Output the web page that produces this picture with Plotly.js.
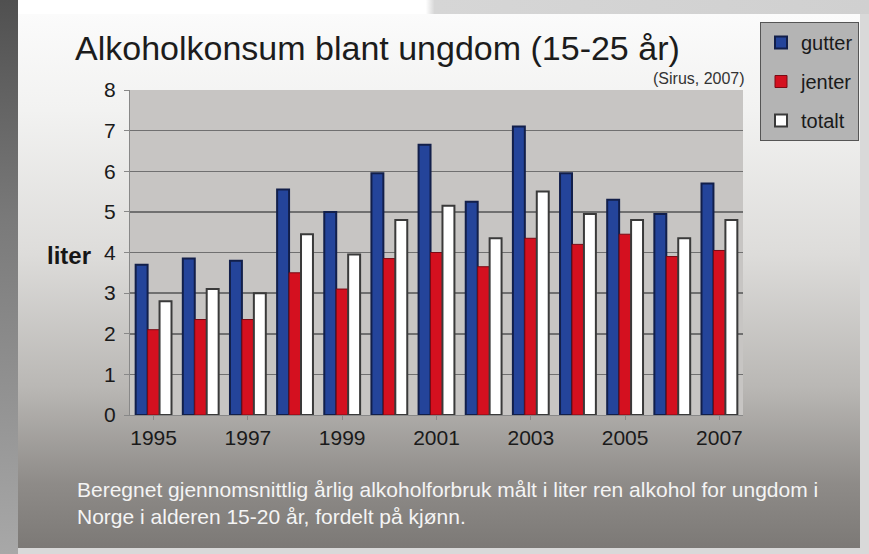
<!DOCTYPE html>
<html>
<head>
<meta charset="utf-8">
<script src="https://cdn.plot.ly/plotly-3.0.1.min.js"></script>
<style>
  html, body { margin:0; padding:0; width:869px; height:554px; overflow:hidden; background:#d9d9d9; }
  #topstrip { position:absolute; left:0; top:0; width:869px; height:14px;
    background:linear-gradient(to right, #ffffff 0%, #ffffff 49%, #d6d6d6 50%, #d0d0d0 100%); }
  #leftstrip { position:absolute; left:0; top:0; width:18px; height:554px;
    background:linear-gradient(to bottom, #505050 0%, #7a7a7a 40%, #a8a8a8 100%); }
  #panel { position:absolute; left:18px; top:14px; width:842px; height:534px;
    background:linear-gradient(to bottom, #fbfbfb 0%, #f2f2f1 18%, #dddcda 45%, #b9b7b4 70%, #8e8b88 88%, #7c7976 100%); }
  #chart { position:absolute; left:0; top:0; width:869px; height:554px; }
</style>
</head>
<body>
<div id="topstrip"></div>
<div id="leftstrip"></div>
<div id="panel"></div>
<div id="chart"></div>
<script>
const years   = [1995, 1996, 1997, 1998, 1999, 2000, 2001, 2002, 2003, 2004, 2005, 2006, 2007];
const gutter  = [3.7, 3.85, 3.8, 5.55, 5.0, 5.95, 6.65, 5.25, 7.1, 5.95, 5.3, 4.95, 5.7];
const jenter  = [2.1, 2.35, 2.35, 3.5, 3.1, 3.85, 4.0, 3.65, 4.35, 4.2, 4.45, 3.9, 4.05];
const totalt  = [2.8, 3.1, 3.0, 4.45, 3.95, 4.8, 5.15, 4.35, 5.5, 4.95, 4.8, 4.35, 4.8];
const yTicks  = [0, 1, 2, 3, 4, 5, 6, 7, 8];
const xTicks  = [1995, 1997, 1999, 2001, 2003, 2005, 2007];

const FONT = 'Liberation Sans, Arial, sans-serif';

const traces = [
  { type:'bar', name:'gutter', x:years, y:gutter, legendgroup:'g',
    marker:{ color:'#24449a', line:{ color:'#121f4a', width:2 } } },
  { type:'bar', name:'jenter', x:years, y:jenter, legendgroup:'j',
    marker:{ color:'#d4101f', line:{ color:'#7a0a14', width:1 } } },
  { type:'bar', name:'totalt', x:years, y:totalt, legendgroup:'t',
    marker:{ color:'#ffffff', line:{ color:'#3a3a3a', width:2 } } }
];

const L = 130, R = 126, T = 90, B = 139;
const PW = 869 - L - R, PH = 554 - T - B;
const px = v => (v - L) / PW;
const py = v => (554 - B - v) / PH;

const layout = {
  width:869, height:554,
  paper_bgcolor:'rgba(0,0,0,0)',
  plot_bgcolor:'#c7c5c3',
  margin:{ l:L, r:R, t:T, b:B },
  barmode:'group', bargap:0.24, bargroupgap:0,
  font:{ family:FONT, color:'#1a1a1a' },
  title:{ text:'Alkoholkonsum blant ungdom (15-25 år)', font:{ size:34, color:'#1c1c1c', family:FONT },
    xref:'container', yref:'container', x:75/869, xanchor:'left', y:1-48/554, yanchor:'middle' },
  xaxis:{ range:[1994.5, 2007.5], tickvals:xTicks, ticktext:xTicks.map(String),
    showgrid:false, zeroline:false, showline:true, linecolor:'#888', linewidth:1,
    ticks:'outside', ticklen:4, tickcolor:'#888', tickfont:{ size:21, color:'#1a1a1a' } },
  yaxis:{ range:[0, 8], tickvals:yTicks, showgrid:true, gridcolor:'#707070', gridwidth:1.5,
    zeroline:false, showline:true, linecolor:'#888', linewidth:1,
    ticks:'outside', ticklen:5, tickcolor:'#888', ticklabelstandoff:4,
    tickfont:{ size:21, color:'#1a1a1a' } },
  legend:{ xref:'container', yref:'container', x:760/869, y:1-22/554, xanchor:'left', yanchor:'top',
    bgcolor:'#b4b4b4', bordercolor:'#555', borderwidth:1,
    font:{ size:20, color:'#1a1a1a' }, traceorder:'grouped', tracegroupgap:10, itemwidth:30 },
  annotations:[
    { text:'(Sirus, 2007)', xref:'paper', yref:'paper', x:px(747), y:py(78),
      xanchor:'right', yanchor:'middle', showarrow:false, font:{ size:16, color:'#333' } },
    { text:'<b>liter</b>', xref:'paper', yref:'paper', x:px(45), y:py(255),
      xanchor:'left', yanchor:'middle', showarrow:false, font:{ size:24, color:'#161616' } },
    { text:'Beregnet gjennomsnittlig årlig alkoholforbruk målt i liter ren alkohol for ungdom i<br>Norge i alderen 15-20 år, fordelt på kjønn.',
      xref:'paper', yref:'paper', x:px(75), y:py(476), xanchor:'left', yanchor:'top',
      align:'left', showarrow:false, font:{ size:21, color:'#f4f4f4' } }
  ]
};

Plotly.newPlot('chart', traces, layout, { displayModeBar:false, staticPlot:true });
</script>
</body>
</html>
